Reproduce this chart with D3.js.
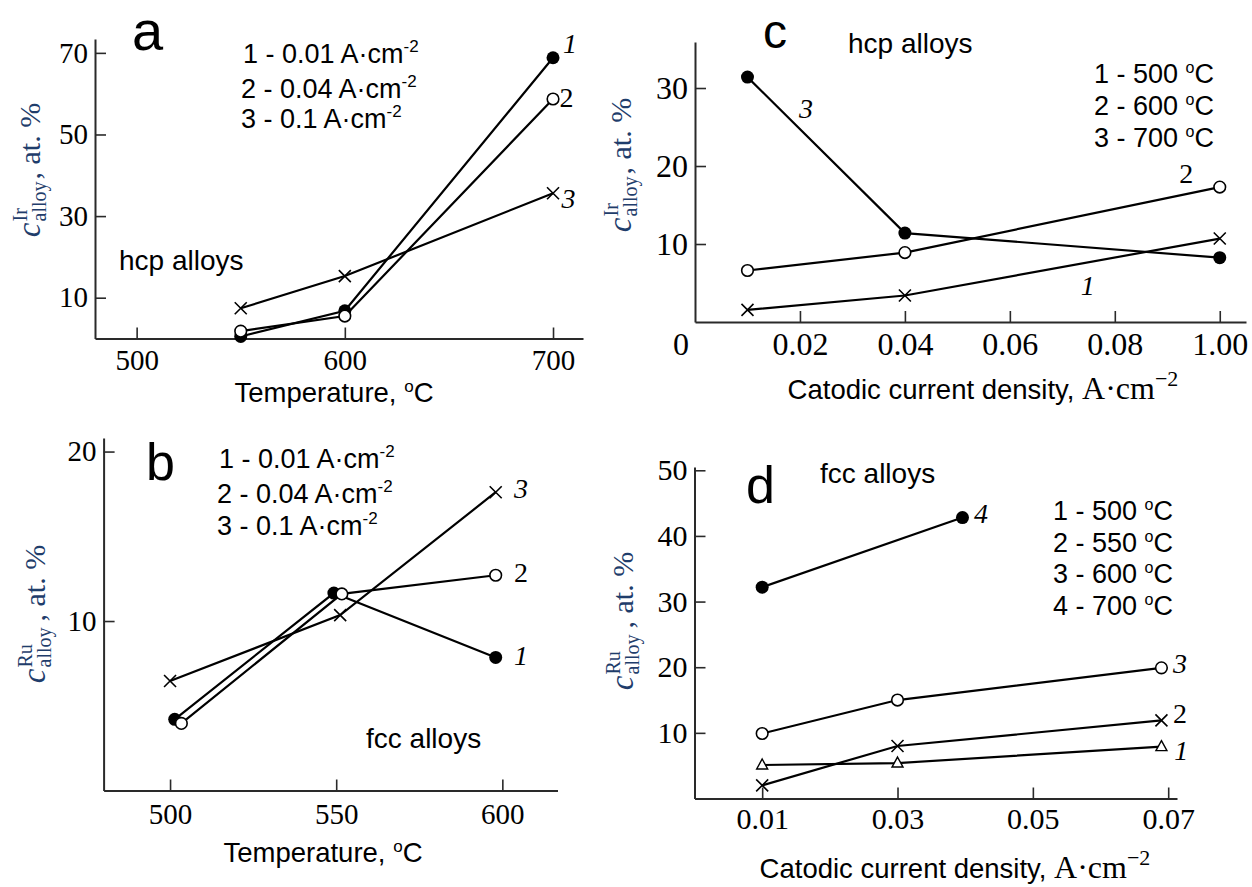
<!DOCTYPE html>
<html>
<head>
<meta charset="utf-8">
<script src="https://cdn.jsdelivr.net/npm/d3@7"></script>
<style>
body { margin: 0; background: #fff; }
svg { display: block; }
.sans { font-family: "Liberation Sans", Arial, sans-serif; }
.serif { font-family: "Liberation Serif", "Times New Roman", serif; }
</style>
</head>
<body>
<script>
// ---- data ----
// (a) Ir in hcp alloys vs temperature, curves 1-3 = current density
var tempA = [550, 600, 700];
var irA_001 = [0.5, 6.8, 68.8];
var irA_004 = [1.8, 5.5, 58.7];
var irA_01 = [7.4, 15.3, 35.6];

// (b) Ru in fcc alloys vs temperature (points are a bit shifted in the original)
var tempB_1 = [501.4, 549.3, 598];
var tempB_2 = [503.4, 551.7, 598];
var tempB_3 = [500, 551.2, 598];
var ruB_001 = [4.2, 11.65, 7.85];
var ruB_004 = [3.96, 11.6, 12.7];
var ruB_01 = [6.46, 10.35, 17.6];

// (c) Ir in hcp alloys vs current density, curves 1-3 = temperature
var currC = [0.01, 0.04, 0.1];
var irC_500 = [1.55, 3.4, 10.7];
var irC_600 = [6.6, 8.9, 17.3];
var irC_700 = [31.4, 11.4, 8.25];
var tickC = [0.02, 0.04, 0.06, 0.08, 0.1];
var tickLabelsC = ["0.02", "0.04", "0.06", "0.08", "1.00"];

// (d) Ru in fcc alloys vs current density, curves 1-4 = temperature
var currD = [0.01, 0.03, 0.069];
var currD4 = [0.01, 0.0396];
var ruD_500 = [5.1, 5.4, 7.9];
var ruD_550 = [2.0, 8.0, 11.9];
var ruD_600 = [9.9, 15.0, 19.9];
var ruD_700 = [32.2, 42.8];

var legendA = ["1 - 0.01 A·cm", "2 - 0.04 A·cm", "3 - 0.1 A·cm"];
var legendC = ["1 - 500 ", "2 - 600 ", "3 - 700 "];
var legendD = ["1 - 500 ", "2 - 550 ", "3 - 600 ", "4 - 700 "];

var svg = d3.select("body").append("svg")
    .attr("width", 1252)
    .attr("height", 887);

// markers
function drawMarker(g, type, px, py) {
    if (type == "filled") {
        g.append("circle").attr("cx", px).attr("cy", py).attr("r", 6.5).attr("fill", "#000");
    } else if (type == "open") {
        g.append("circle").attr("cx", px).attr("cy", py).attr("r", 5.8)
            .attr("fill", "#fff").attr("stroke", "#000").attr("stroke-width", 1.6);
    } else if (type == "cross") {
        var s = 6;
        g.append("path")
            .attr("d", "M" + (px - s) + "," + (py - s) + "L" + (px + s) + "," + (py + s) +
                       "M" + (px - s) + "," + (py + s) + "L" + (px + s) + "," + (py - s))
            .attr("stroke", "#000").attr("stroke-width", 1.6).attr("fill", "none");
    } else if (type == "tri") {
        g.append("path")
            .attr("d", "M" + px + "," + (py - 6) + "L" + (px + 5.5) + "," + (py + 4) + "L" + (px - 5.5) + "," + (py + 4) + "Z")
            .attr("fill", "#fff").attr("stroke", "#000").attr("stroke-width", 1.4);
    }
}

function yTitle(cx, cy, sup, gap) {
    var g = svg.append("g")
        .attr("transform", "translate(" + cx + "," + cy + ") rotate(-90)")
        .attr("class", "serif")
        .attr("fill", "#1f3d6b");
    var inner = g.append("g");
    var c = inner.append("text").attr("font-size", 33).attr("font-style", "italic").text("c");
    var wc = c.node().getComputedTextLength();
    var s1 = inner.append("text").attr("x", wc + 1).attr("y", -13).attr("font-size", 20).text(sup);
    var s2 = inner.append("text").attr("x", wc + 1).attr("y", 6).attr("font-size", 20).text("alloy");
    var w = wc + 1 + Math.max(s1.node().getComputedTextLength(), s2.node().getComputedTextLength()) + gap;
    var rest = inner.append("text").attr("x", w).attr("font-size", 30).text(", at. %");
    var total = w + rest.node().getComputedTextLength();
    inner.attr("transform", "translate(" + (-total / 2) + ",0)");
}

function panel(o) {
    var x = d3.scaleLinear().domain(o.xDom).range(o.xRange);
    var y = d3.scaleLinear().domain(o.yDom).range(o.yRange);
    var g = svg.append("g");

    var xAxis = d3.axisBottom(x).tickValues(o.xTicks).tickSize(-11).tickSizeOuter(0).tickPadding(o.xPad);
    if (o.xLabels) xAxis.tickFormat(function(d, i) { return o.xLabels[i]; });
    else xAxis.tickFormat(d3.format("d"));
    if (o.xFmt) xAxis.tickFormat(o.xFmt);
    var gx = g.append("g").attr("transform", "translate(0," + o.yRange[0] + ")").call(xAxis);

    var yAxis = d3.axisLeft(y).tickValues(o.yTicks).tickSize(-11).tickSizeOuter(0).tickPadding(7)
        .tickFormat(d3.format("d"));
    var gy = g.append("g").attr("transform", "translate(" + o.xRange[0] + ",0)").call(yAxis);

    [gx, gy].forEach(function(a) {
        a.select(".domain").attr("stroke", "#2a2a2a").attr("stroke-width", 2);
        a.selectAll(".tick line").attr("stroke", "#2a2a2a").attr("stroke-width", 1.6);
        a.selectAll(".tick text").attr("fill", "#000")
            .style("font-family", '"Liberation Serif", "Times New Roman", serif')
            .style("font-size", o.tickSize + "px");
    });

    var line = d3.line()
        .x(function(d) { return x(d[0]); })
        .y(function(d) { return y(d[1]); });

    o.series.forEach(function(s) {
        var pts = s.xs.map(function(v, i) { return [v, s.ys[i]]; });
        g.append("path").datum(pts).attr("d", line)
            .attr("fill", "none").attr("stroke", "#000").attr("stroke-width", 2.2);
    });
    o.series.forEach(function(s) {
        s.xs.forEach(function(v, i) { drawMarker(g, s.marker, x(v), y(s.ys[i])); });
        g.append("text").attr("class", "serif")
            .attr("x", x(s.lab[0])).attr("y", y(s.lab[1]))
            .attr("font-size", 28)
            .attr("font-style", s.name == "2" ? "normal" : "italic")
            .text(s.name);
    });
    return { x: x, y: y, g: g };
}

function sansText(x, y, size, txt) {
    return svg.append("text").attr("class", "sans").attr("x", x).attr("y", y)
        .attr("font-size", size).attr("fill", "#000").text(txt);
}

function legendCm(x, y, txt) {
    var t = sansText(x, y, 27, txt);
    t.append("tspan").attr("dy", -11).attr("font-size", 17).text("-2");
}

function legendDeg(x, y, txt) {
    var t = sansText(x, y, 27, txt);
    t.append("tspan").attr("dy", -10).attr("font-size", 16).text("o");
    t.append("tspan").attr("dy", 10).text("C");
}

function tempTitle(x, y) {
    var t = sansText(x, y, 27.5, "Temperature, ").attr("text-anchor", "middle");
    t.append("tspan").attr("dy", -10).attr("font-size", 17).text("o");
    t.append("tspan").attr("dy", 10).text("C");
}

function currentTitle(x, y) {
    var t = sansText(x, y, 27.5, "Catodic current density, ").attr("text-anchor", "middle");
    t.append("tspan").attr("class", "serif").attr("font-size", 32).text("A·cm");
    t.append("tspan").attr("class", "serif").attr("font-size", 22).attr("dy", -13).text("\u22122");
}

// ---- (a) ----
panel({
    xDom: [480, 714.4], xRange: [95, 583],
    yDom: [0, 73.4], yRange: [338.5, 39],
    xTicks: [500, 600, 700], yTicks: [10, 30, 50, 70],
    xPad: 11, tickSize: 29,
    series: [
        { name: "1", xs: tempA, ys: irA_001, marker: "filled", lab: [704.8, 70.0] },
        { name: "2", xs: tempA, ys: irA_004, marker: "open", lab: [703.1, 56.7] },
        { name: "3", xs: tempA, ys: irA_01, marker: "cross", lab: [704.1, 32.0] }
    ]
});
sansText(132, 50, 56, "a");
legendA.forEach(function(t, i) { legendCm([243, 241, 241][i], [63, 98, 128][i], t); });
sansText(119, 270, 28, "hcp alloys");
tempTitle(334, 402);
yTitle(40, 170, "Ir", 2);

// ---- (b) ----
panel({
    xDom: [480, 616.6], xRange: [103.6, 557.5],
    yDom: [0, 20.8], yRange: [790.5, 438],
    xTicks: [500, 550, 600], yTicks: [10, 20],
    xPad: 13, tickSize: 29,
    series: [
        { name: "1", xs: tempB_1, ys: ruB_001, marker: "filled", lab: [603.5, 7.4] },
        { name: "2", xs: tempB_2, ys: ruB_004, marker: "open", lab: [603.5, 12.3] },
        { name: "3", xs: tempB_3, ys: ruB_01, marker: "cross", lab: [603.5, 17.26] }
    ]
});
sansText(146, 480, 52, "b");
legendA.forEach(function(t, i) { legendCm([219, 217, 217][i], [468, 503, 535][i], t); });
sansText(366, 748, 28, "fcc alloys");
tempTitle(323, 862);
yTitle(45, 614, "Ru", 6);

// ---- (c) ----
var pc = panel({
    xDom: [0, 0.105], xRange: [695, 1246],
    yDom: [0, 35.9], yRange: [322, 42],
    xTicks: tickC, xLabels: tickLabelsC, yTicks: [10, 20, 30],
    xPad: 10, tickSize: 32,
    series: [
        { name: "1", xs: currC, ys: irC_500, marker: "cross", lab: [0.0735, 3.5] },
        { name: "2", xs: currC, ys: irC_600, marker: "open", lab: [0.0923, 17.8] },
        { name: "3", xs: currC, ys: irC_700, marker: "filled", lab: [0.0198, 26.2] }
    ]
});
pc.g.append("text").attr("class", "serif").attr("x", pc.x(0) - 14).attr("y", 355)
    .attr("text-anchor", "middle").attr("font-size", 32).text("0");
sansText(763, 48, 48, "c");
sansText(848, 53, 28, "hcp alloys");
legendC.forEach(function(t, i) { legendDeg(1094, [83, 115, 147][i], t); });
currentTitle(983, 399);
yTitle(631, 165, "Ir", 2);

// ---- (d) ----
panel({
    xDom: [0, 0.0713], xRange: [694.5, 1177],
    yDom: [0, 50.5], yRange: [798.5, 467],
    xTicks: [0.01, 0.03, 0.05, 0.07], xFmt: d3.format(".2f"), yTicks: [10, 20, 30, 40, 50],
    xPad: 9, tickSize: 30,
    series: [
        { name: "1", xs: currD, ys: ruD_500, marker: "tri", lab: [0.0709, 5.9] },
        { name: "2", xs: currD, ys: ruD_550, marker: "cross", lab: [0.0707, 11.5] },
        { name: "3", xs: currD, ys: ruD_600, marker: "open", lab: [0.0707, 19.1] },
        { name: "4", xs: currD4, ys: ruD_700, marker: "filled", lab: [0.0413, 42.0] }
    ]
});
sansText(746, 503, 52, "d");
sansText(820, 483, 28, "fcc alloys");
legendD.forEach(function(t, i) { legendDeg(1053, [520, 552, 583, 615][i], t); });
currentTitle(955, 878);
yTitle(633, 621, "Ru", 6);
</script>
</body>
</html>
